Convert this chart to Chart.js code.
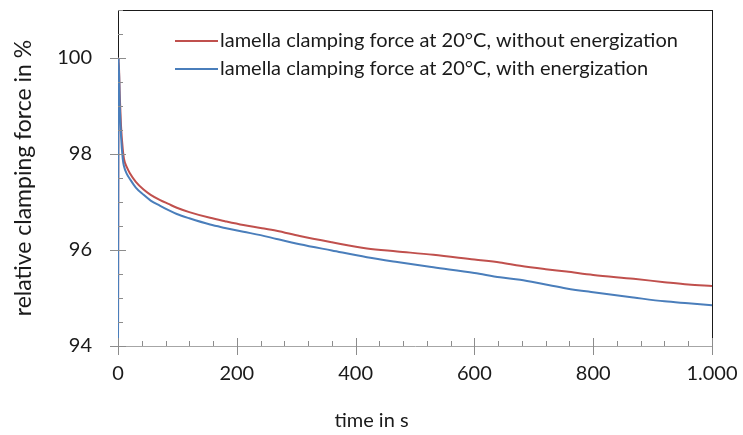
<!DOCTYPE html>
<html>
<head>
<meta charset="utf-8">
<script src="https://cdn.jsdelivr.net/npm/chart.js@4/dist/chart.umd.min.js"></script>
<style>
  body { margin: 0; background: #fff; }
  canvas { display: block; }
</style>
</head>
<body>
<canvas id="myClamping" width="743" height="435"></canvas>
<script>
// time in s
const timeS = [0, 1, 3, 5, 8, 10, 15, 20, 30, 43, 55, 71, 85, 99, 120, 155, 180, 211, 240, 267,
  306, 360, 419, 470, 531, 600, 643, 677, 720, 755, 800, 868, 920, 960, 1000];

// relative clamping force in %, without energization
const forceWithout = [94, 100, 99.2, 98.6, 98.1, 97.9, 97.72, 97.6, 97.42, 97.26, 97.15, 97.04, 96.96, 96.88, 96.79, 96.67, 96.6, 96.52, 96.46, 96.4,
  96.29, 96.16, 96.03, 95.97, 95.9, 95.8, 95.74, 95.67, 95.6, 95.55, 95.48, 95.4, 95.33, 95.28, 95.25];

// relative clamping force in %, with energization
const forceWith = [94, 100, 99.0, 98.4, 97.9, 97.75, 97.58, 97.48, 97.3, 97.15, 97.03, 96.92, 96.83, 96.75, 96.66, 96.53, 96.46, 96.38, 96.31, 96.23,
  96.12, 95.99, 95.85, 95.75, 95.64, 95.52, 95.43, 95.38, 95.28, 95.2, 95.12, 95.01, 94.93, 94.89, 94.85];

const seriesLabels = [
  "lamella clamping force at 20°C, without energization",
  "lamella clamping force at 20°C, with energization",
];

const xTicks = [0, 200, 400, 600, 800, 1000];
const xMinorStep = 40;
const yTicks = [94, 96, 98, 100];
const yMinorStep = 0.5;

const FONT = "Lato";
const red = "#c0504d";
const blue = "#4a7ebb";

// axis frame + tick marks like the spreadsheet original
const frameAndTicks = {
  id: "frameAndTicks",
  afterDraw(chart) {
    const { ctx, chartArea: a, scales } = chart;
    const x = scales.x;
    const y = scales.y;
    ctx.save();
    ctx.lineWidth = 1;

    // top and right border
    ctx.strokeStyle = "#1a1a1a";
    ctx.beginPath();
    ctx.moveTo(a.left, a.top + 0.5);
    ctx.lineTo(a.right, a.top + 0.5);
    ctx.moveTo(a.right + 0.5, a.top);
    ctx.lineTo(a.right + 0.5, a.bottom);
    ctx.stroke();

    ctx.strokeStyle = "#8c8c8c";
    ctx.beginPath();
    // y minor (inside) and major (crossing)
    for (let v = y.min; v <= y.max + 1e-9; v += yMinorStep) {
      const py = Math.round(y.getPixelForValue(v)) + 0.5;
      const major = yTicks.includes(Math.round(v * 100) / 100);
      ctx.moveTo(a.left - (major ? 8 : 0), py);
      ctx.lineTo(a.left + (major ? 8 : 5), py);
    }
    // x minor (inside) and major (crossing)
    for (let v = x.min; v <= x.max; v += xMinorStep) {
      const px = Math.round(x.getPixelForValue(v)) + 0.5;
      const major = xTicks.includes(v);
      ctx.moveTo(px, a.bottom + (major ? 9 : 0));
      ctx.lineTo(px, a.bottom - (major ? 8 : 5));
    }
    ctx.stroke();

    // legend inside the plot
    ctx.font = "20px " + FONT;
    ctx.textBaseline = "middle";
    ctx.fillStyle = "#1a1a1a";
    chart.data.datasets.forEach((ds, i) => {
      const ly = a.top + 31 + i * 28;
      ctx.strokeStyle = ds.borderColor;
      ctx.lineWidth = 2;
      ctx.beginPath();
      ctx.moveTo(a.left + 57, ly);
      ctx.lineTo(a.left + 100, ly);
      ctx.stroke();
      ctx.fillText(ds.label, a.left + 102, ly);
    });
    ctx.restore();
  },
};

const ctx = document.getElementById("myClamping").getContext("2d");

const myChart = new Chart(ctx, {
  type: "line",
  data: {
    datasets: [
      {
        label: seriesLabels[0],
        data: timeS.map((t, i) => ({ x: t, y: forceWithout[i] })),
        borderColor: red,
        borderWidth: 2,
        pointRadius: 0,
        cubicInterpolationMode: "monotone",
        order: 1,
      },
      {
        label: seriesLabels[1],
        data: timeS.map((t, i) => ({ x: t, y: forceWith[i] })),
        borderColor: blue,
        borderWidth: 2,
        pointRadius: 0,
        cubicInterpolationMode: "monotone",
        order: 0,
      },
    ],
  },
  options: {
    responsive: false,
    animation: false,
    devicePixelRatio: 1,
    layout: {
      padding: { left: 0, right: 0, top: 10, bottom: 0 },
    },
    scales: {
      x: {
        type: "linear",
        min: 0,
        max: 1000,
        afterBuildTicks: (scale) => {
          scale.ticks = xTicks.map((v) => ({ value: v }));
        },
        afterFit: (scale) => {
          scale.height = 63;
          scale.paddingLeft = 0;
          scale.paddingRight = 31;
        },
        grid: { display: false, drawTicks: false },
        border: { display: true, color: "#a6a6a6", width: 1 },
        ticks: {
          padding: 16,
          maxRotation: 0,
          color: "#1a1a1a",
          font: { family: FONT, size: 20 },
          callback: (v) => String(v).replace(/\B(?=(\d{3})+(?!\d))/g, "."),
        },
      },
      y: {
        min: 94,
        max: 101,
        afterBuildTicks: (scale) => {
          scale.ticks = yTicks.map((v) => ({ value: v }));
        },
        afterFit: (scale) => {
          scale.width = 118;
          scale.paddingTop = 0;
          scale.paddingBottom = 0;
        },
        grid: { display: false, drawTicks: false },
        border: { display: true, color: "#1a1a1a", width: 1 },
        ticks: {
          padding: 26,
          color: "#1a1a1a",
          font: { family: FONT, size: 20 },
        },
        title: {
          display: true,
          text: "relative clamping force in %",
          color: "#1a1a1a",
          font: { family: FONT, size: 23 },
          padding: { top: 10, bottom: 0 },
        },
      },
    },
    plugins: {
      legend: { display: false },
      tooltip: { enabled: false },
      title: {
        display: true,
        position: "bottom",
        text: "time in s",
        color: "#1a1a1a",
        font: { family: FONT, size: 20, weight: "normal" },
        padding: { top: 0, bottom: 2 },
      },
    },
  },
  plugins: [frameAndTicks],
});
</script>
</body>
</html>
